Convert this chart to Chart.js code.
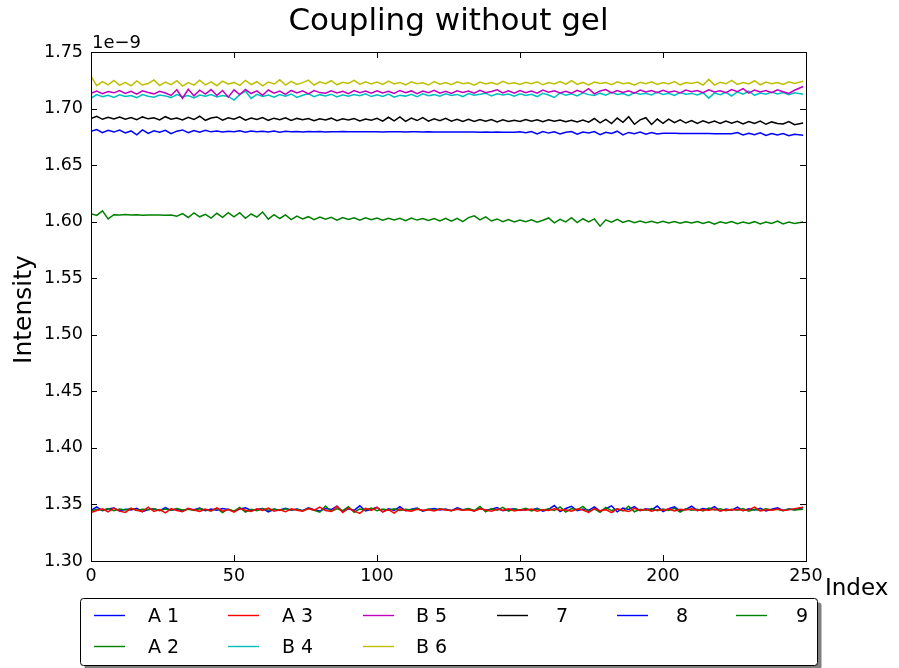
<!DOCTYPE html>
<html>
<head>
<meta charset="utf-8">
<script src="https://cdn.jsdelivr.net/npm/chart.js@4.4.1/dist/chart.umd.min.js"></script>
<style>
  html, body { margin: 0; padding: 0; background: #fff; }
  canvas { display: block; }
</style>
</head>
<body>
<canvas id="chart" width="899" height="668"></canvas>
<script>
const FONT = "'DejaVu Sans', sans-serif";

// readings are plotted every other index, last one is 249
const index = Array.from({length: 124}, (_, i) => i * 2).concat([249]);

const xTicks = [0, 50, 100, 150, 200, 250];
const yTicks = [1.30, 1.35, 1.40, 1.45, 1.50, 1.55, 1.60, 1.65, 1.70, 1.75];

const seriesNames = ['A 1', 'A 2', 'A 3', 'B 4', 'B 5', 'B 6', '7', '8', '9'];
const seriesColors = ['#0000ff', '#008000', '#ff0000', '#00bfbf', '#bf00bf', '#bfbf00', '#000000', '#0000ff', '#008000'];

// values in units of 1e-9
const a1 = [
  1.3448,1.3479,1.3444,1.3459,1.3468,1.3442,1.3457,1.3451,1.3466,1.3437,1.3455,1.3462,1.3446,1.3473,1.3448,1.3457,1.3442,1.3462,1.3453,1.3468,1.3444,1.3459,1.3448,1.3464,1.3455,
  1.3440,1.3459,1.3470,1.3446,1.3455,1.3464,1.3435,1.3457,1.3451,1.3466,1.3448,1.3459,1.3444,1.3470,1.3453,1.3442,1.3464,1.3455,1.3484,1.3437,1.3462,1.3448,1.3488,1.3442,1.3457,
  1.3475,1.3435,1.3462,1.3448,1.3481,1.3444,1.3457,1.3468,1.3440,1.3455,1.3464,1.3451,1.3459,1.3444,1.3470,1.3453,1.3459,1.3442,1.3466,1.3448,1.3457,1.3473,1.3444,1.3455,1.3462,
  1.3446,1.3459,1.3451,1.3466,1.3440,1.3457,1.3490,1.3437,1.3464,1.3484,1.3444,1.3459,1.3448,1.3479,1.3442,1.3462,1.3488,1.3435,1.3468,1.3455,1.3481,1.3444,1.3462,1.3451,1.3486,
  1.3437,1.3462,1.3479,1.3444,1.3457,1.3484,1.3446,1.3464,1.3453,1.3481,1.3442,1.3459,1.3448,1.3477,1.3444,1.3462,1.3451,1.3466,1.3442,1.3457,1.3470,1.3446,1.3459,1.3453,1.3473
];
const a2 = [
  1.3442,1.3457,1.3449,1.3464,1.3444,1.3460,1.3451,1.3466,1.3446,1.3457,1.3453,1.3462,1.3444,1.3460,1.3449,1.3464,1.3451,1.3457,1.3446,1.3462,1.3453,1.3442,1.3466,1.3429,1.3460,
  1.3440,1.3473,1.3433,1.3457,1.3444,1.3464,1.3449,1.3460,1.3446,1.3462,1.3451,1.3457,1.3444,1.3464,1.3449,1.3431,1.3486,1.3438,1.3462,1.3446,1.3479,1.3431,1.3460,1.3451,1.3468,
  1.3444,1.3460,1.3449,1.3462,1.3446,1.3457,1.3451,1.3464,1.3444,1.3460,1.3449,1.3462,1.3453,1.3444,1.3460,1.3451,1.3464,1.3446,1.3482,1.3435,1.3464,1.3449,1.3475,1.3440,1.3462,
  1.3451,1.3466,1.3442,1.3460,1.3449,1.3462,1.3446,1.3477,1.3433,1.3464,1.3451,1.3482,1.3438,1.3462,1.3431,1.3473,1.3446,1.3460,1.3442,1.3484,1.3435,1.3457,1.3449,1.3464,1.3444,
  1.3460,1.3446,1.3466,1.3433,1.3462,1.3449,1.3457,1.3442,1.3468,1.3451,1.3462,1.3444,1.3457,1.3449,1.3464,1.3440,1.3457,1.3446,1.3462,1.3451,1.3457,1.3444,1.3460,1.3451,1.3457
];
const a3 = [
  1.3428,1.3446,1.3461,1.3435,1.3468,1.3441,1.3430,1.3465,1.3448,1.3437,1.3476,1.3439,1.3454,1.3426,1.3463,1.3446,1.3435,1.3465,1.3450,1.3439,1.3459,1.3443,1.3470,1.3441,1.3454,
  1.3432,1.3463,1.3448,1.3437,1.3461,1.3446,1.3468,1.3441,1.3452,1.3435,1.3461,1.3448,1.3441,1.3463,1.3450,1.3476,1.3446,1.3437,1.3483,1.3428,1.3468,1.3441,1.3421,1.3465,1.3448,
  1.3474,1.3435,1.3454,1.3424,1.3461,1.3446,1.3441,1.3457,1.3448,1.3452,1.3443,1.3459,1.3450,1.3446,1.3457,1.3448,1.3454,1.3443,1.3461,1.3450,1.3441,1.3457,1.3448,1.3461,1.3443,
  1.3454,1.3448,1.3459,1.3441,1.3454,1.3446,1.3461,1.3448,1.3452,1.3441,1.3459,1.3450,1.3430,1.3463,1.3443,1.3454,1.3428,1.3461,1.3448,1.3437,1.3465,1.3446,1.3457,1.3441,1.3454,
  1.3448,1.3459,1.3443,1.3457,1.3450,1.3461,1.3446,1.3454,1.3448,1.3459,1.3443,1.3454,1.3450,1.3457,1.3446,1.3452,1.3476,1.3443,1.3454,1.3448,1.3459,1.3446,1.3452,1.3463,1.3476
];
const b4 = [
  1.7091,1.7123,1.7104,1.7118,1.7099,1.7121,1.7107,1.7116,1.7096,1.7124,1.7108,1.7100,1.7120,1.7112,1.7097,1.7123,1.7105,1.7115,1.7094,1.7120,1.7110,1.7124,1.7102,1.7116,1.7107,
  1.7075,1.7123,1.7155,1.7090,1.7125,1.7106,1.7120,1.7101,1.7124,1.7110,1.7129,1.7099,1.7118,1.7130,1.7105,1.7123,1.7112,1.7127,1.7103,1.7121,1.7109,1.7125,1.7113,1.7131,1.7106,
  1.7122,1.7107,1.7128,1.7101,1.7118,1.7110,1.7126,1.7104,1.7131,1.7114,1.7123,1.7109,1.7130,1.7115,1.7125,1.7106,1.7133,1.7117,1.7126,1.7136,1.7112,1.7131,1.7120,1.7128,1.7110,
  1.7131,1.7115,1.7127,1.7106,1.7135,1.7120,1.7098,1.7138,1.7117,1.7130,1.7112,1.7139,1.7123,1.7115,1.7136,1.7119,1.7144,1.7125,1.7133,1.7114,1.7141,1.7127,1.7135,1.7120,1.7146,
  1.7124,1.7135,1.7116,1.7142,1.7126,1.7134,1.7120,1.7140,1.7092,1.7138,1.7123,1.7144,1.7111,1.7148,1.7127,1.7153,1.7117,1.7137,1.7126,1.7146,1.7129,1.7141,1.7122,1.7140,1.7126
];
const b5 = [
  1.7135,1.7155,1.7132,1.7151,1.7139,1.7159,1.7133,1.7153,1.7128,1.7157,1.7142,1.7130,1.7153,1.7137,1.7116,1.7166,1.7091,1.7170,1.7112,1.7162,1.7128,1.7168,1.7116,1.7160,1.7101,
  1.7165,1.7124,1.7168,1.7133,1.7157,1.7117,1.7164,1.7136,1.7154,1.7125,1.7160,1.7138,1.7156,1.7130,1.7159,1.7141,1.7135,1.7157,1.7138,1.7152,1.7132,1.7159,1.7141,1.7154,1.7135,
  1.7157,1.7138,1.7152,1.7133,1.7160,1.7141,1.7156,1.7132,1.7154,1.7140,1.7162,1.7136,1.7152,1.7133,1.7157,1.7143,1.7154,1.7135,1.7162,1.7140,1.7151,1.7165,1.7138,1.7156,1.7135,
  1.7160,1.7141,1.7154,1.7136,1.7164,1.7144,1.7157,1.7138,1.7152,1.7135,1.7162,1.7143,1.7176,1.7130,1.7156,1.7168,1.7138,1.7160,1.7143,1.7157,1.7136,1.7164,1.7146,1.7159,1.7140,
  1.7162,1.7144,1.7156,1.7138,1.7164,1.7148,1.7160,1.7141,1.7166,1.7146,1.7158,1.7140,1.7167,1.7149,1.7176,1.7137,1.7164,1.7146,1.7160,1.7141,1.7166,1.7149,1.7134,1.7162,1.7195
];
const b6 = [
  1.7285,1.7202,1.7239,1.7210,1.7249,1.7205,1.7232,1.7200,1.7244,1.7208,1.7222,1.7253,1.7203,1.7234,1.7212,1.7246,1.7198,1.7229,1.7207,1.7251,1.7210,1.7236,1.7202,1.7242,1.7215,
  1.7231,1.7205,1.7248,1.7212,1.7237,1.7200,1.7234,1.7217,1.7254,1.7207,1.7241,1.7213,1.7229,1.7251,1.7208,1.7236,1.7219,1.7246,1.7210,1.7232,1.7222,1.7249,1.7213,1.7237,1.7217,
  1.7234,1.7213,1.7243,1.7217,1.7231,1.7210,1.7236,1.7219,1.7228,1.7208,1.7239,1.7216,1.7230,1.7211,1.7237,1.7220,1.7227,1.7207,1.7234,1.7217,1.7231,1.7213,1.7240,1.7219,1.7228,
  1.7214,1.7233,1.7220,1.7236,1.7210,1.7230,1.7217,1.7239,1.7216,1.7246,1.7213,1.7231,1.7208,1.7234,1.7222,1.7230,1.7211,1.7237,1.7219,1.7228,1.7207,1.7233,1.7220,1.7236,1.7213,
  1.7231,1.7217,1.7239,1.7210,1.7230,1.7222,1.7234,1.7208,1.7258,1.7207,1.7233,1.7219,1.7249,1.7213,1.7230,1.7217,1.7246,1.7210,1.7234,1.7220,1.7231,1.7214,1.7237,1.7222,1.7242
];
const s7 = [
  1.6911,1.6931,1.6905,1.6923,1.6908,1.6925,1.6906,1.6920,1.6902,1.6926,1.6909,1.6919,1.6900,1.6928,1.6906,1.6917,1.6899,1.6922,1.6903,1.6932,1.6896,1.6916,1.6926,1.6897,1.6919,
  1.6905,1.6927,1.6898,1.6916,1.6904,1.6921,1.6896,1.6915,1.6902,1.6918,1.6895,1.6913,1.6901,1.6912,1.6893,1.6910,1.6899,1.6915,1.6892,1.6909,1.6898,1.6912,1.6890,1.6907,1.6896,
  1.6914,1.6889,1.6923,1.6892,1.6926,1.6886,1.6915,1.6894,1.6920,1.6888,1.6909,1.6892,1.6914,1.6889,1.6906,1.6886,1.6905,1.6885,1.6903,1.6888,1.6902,1.6882,1.6900,1.6885,1.6897,
  1.6886,1.6903,1.6889,1.6900,1.6884,1.6901,1.6887,1.6898,1.6883,1.6897,1.6882,1.6898,1.6879,1.6912,1.6873,1.6904,1.6868,1.6916,1.6879,1.6928,1.6861,1.6900,1.6919,1.6859,1.6907,
  1.6869,1.6907,1.6875,1.6900,1.6872,1.6894,1.6869,1.6892,1.6873,1.6889,1.6868,1.6890,1.6871,1.6887,1.6865,1.6886,1.6869,1.6890,1.6861,1.6882,1.6868,1.6864,1.6885,1.6858,1.6873
];
const s8 = [
  1.6799,1.6815,1.6787,1.6807,1.6792,1.6810,1.6784,1.6802,1.6767,1.6811,1.6781,1.6803,1.6791,1.6808,1.6778,1.6800,1.6811,1.6786,1.6805,1.6791,1.6807,1.6794,1.6802,1.6792,1.6800,
  1.6794,1.6803,1.6791,1.6801,1.6795,1.6800,1.6792,1.6801,1.6791,1.6799,1.6794,1.6797,1.6793,1.6798,1.6795,1.6797,1.6793,1.6796,1.6795,1.6797,1.6794,1.6796,1.6795,1.6796,1.6794,
  1.6795,1.6793,1.6795,1.6794,1.6795,1.6793,1.6794,1.6794,1.6793,1.6794,1.6793,1.6793,1.6792,1.6793,1.6792,1.6793,1.6792,1.6792,1.6791,1.6792,1.6791,1.6792,1.6790,1.6791,1.6790,
  1.6794,1.6786,1.6796,1.6775,1.6797,1.6783,1.6794,1.6776,1.6791,1.6797,1.6773,1.6792,1.6783,1.6796,1.6770,1.6791,1.6780,1.6800,1.6767,1.6789,1.6778,1.6792,1.6773,1.6788,1.6775,
  1.6782,1.6781,1.6781,1.6780,1.6780,1.6780,1.6779,1.6779,1.6779,1.6778,1.6778,1.6778,1.6777,1.6788,1.6766,1.6782,1.6769,1.6785,1.6763,1.6779,1.6766,1.6780,1.6760,1.6772,1.6764
];
const s9 = [
  1.6070,1.6055,1.6095,1.6025,1.6062,1.6058,1.6064,1.6059,1.6061,1.6057,1.6060,1.6058,1.6059,1.6056,1.6058,1.6049,1.6071,1.6037,1.6077,1.6043,1.6065,1.6031,1.6074,1.6039,1.6080,
  1.6042,1.6080,1.6030,1.6068,1.6040,1.6085,1.6022,1.6062,1.6028,1.6060,1.6018,1.6050,1.6024,1.6044,1.6018,1.6040,1.6021,1.6038,1.6014,1.6036,1.6019,1.6035,1.6013,1.6034,1.6017,
  1.6033,1.6012,1.6030,1.6015,1.6029,1.6009,1.6032,1.6014,1.6028,1.6010,1.6027,1.6006,1.6030,1.6005,1.6030,1.6000,1.6036,1.6052,1.6015,1.6043,1.6006,1.6024,1.5999,1.6019,1.5997,
  1.6014,1.5999,1.6017,1.5996,1.6012,1.6033,1.5989,1.6020,1.5998,1.6036,1.5992,1.6026,1.5997,1.6024,1.5960,1.6016,1.5995,1.6021,1.5993,1.6009,1.5991,1.6006,1.5990,1.6003,1.5989,
  1.6003,1.5989,1.6001,1.5986,1.6000,1.5988,1.6002,1.5985,1.5999,1.5977,1.5998,1.5986,1.6002,1.5981,1.5997,1.5985,1.6000,1.5979,1.5996,1.5984,1.6006,1.5980,1.5996,1.5984,1.5998
];

const seriesValues = [a1, a2, a3, b4, b5, b6, s7, s8, s9];

const datasets = seriesValues.map((vals, i) => ({
  label: seriesNames[i],
  data: vals.map((v, j) => ({x: index[j], y: v})),
  borderColor: seriesColors[i],
  borderWidth: 1.5,
  pointRadius: 0,
  fill: false,
  tension: 0,
  order: seriesValues.length - i   // first series at the bottom, like matplotlib
}));

// legend laid out column by column, two rows
const legendCols = [[0, 1], [2, 3], [4, 5], [6], [7], [8]];
const legendLineX = [94, 228, 363, 497, 617, 736];
const legendTextX = [148, 282, 416, 556, 676, 796];
const legendRowY = [615, 646];

const decorations = {
  id: 'decorations',
  afterDraw(chart) {
    const c = chart.ctx, a = chart.chartArea;
    const xs = chart.scales.x, ys = chart.scales.y;
    c.save();

    // frame + inward ticks on all sides
    c.strokeStyle = '#000';
    c.lineWidth = 1;
    c.strokeRect(a.left + 0.5, a.top + 0.5, a.right - a.left, a.bottom - a.top);
    c.beginPath();
    xTicks.forEach(v => {
      const x = Math.round(xs.getPixelForValue(v)) + 0.5;
      c.moveTo(x, a.bottom); c.lineTo(x, a.bottom - 6);
      c.moveTo(x, a.top); c.lineTo(x, a.top + 6);
    });
    yTicks.forEach(v => {
      const y = Math.round(ys.getPixelForValue(v)) + 0.5;
      c.moveTo(a.left, y); c.lineTo(a.left + 6, y);
      c.moveTo(a.right, y); c.lineTo(a.right - 6, y);
    });
    c.stroke();

    c.fillStyle = '#000';
    c.textBaseline = 'alphabetic';

    // title
    c.font = '31px ' + FONT;
    c.textAlign = 'center';
    c.fillText('Coupling without gel', (a.left + a.right) / 2, 30);

    // offset text
    c.font = '18px ' + FONT;
    c.textAlign = 'left';
    c.fillText('1e\u22129', a.left + 1, 48);

    // axis labels
    c.font = '23px ' + FONT;
    c.fillText('Index', 825, 595);
    c.save();
    c.translate(31, (a.top + a.bottom) / 2 + 3);
    c.rotate(-Math.PI / 2);
    c.font = '25px ' + FONT;
    c.textAlign = 'center';
    c.fillText('Intensity', 0, 0);
    c.restore();

    // legend box with shadow
    const bx = 80.5, by = 598.5, bw = 737, bh = 67;
    c.fillStyle = 'rgba(0,0,0,0.5)';
    c.beginPath();
    c.roundRect(bx + 4, by + 4, bw, bh, 3);
    c.fill();
    c.fillStyle = '#fff';
    c.beginPath();
    c.roundRect(bx, by, bw, bh, 3);
    c.fill();
    c.strokeStyle = '#000';
    c.stroke();

    c.font = '19px ' + FONT;
    c.textAlign = 'left';
    legendCols.forEach((col, ci) => {
      col.forEach((si, ri) => {
        const y = legendRowY[ri];
        c.strokeStyle = seriesColors[si];
        c.lineWidth = 1.4;
        c.beginPath();
        c.moveTo(legendLineX[ci], y + 0.5);
        c.lineTo(legendLineX[ci] + 31, y + 0.5);
        c.stroke();
        c.fillStyle = '#000';
        c.fillText(seriesNames[si], legendTextX[ci], y + 7);
      });
    });
    c.restore();
  }
};

new Chart(document.getElementById('chart').getContext('2d'), {
  type: 'line',
  data: { datasets },
  options: {
    responsive: false,
    animation: false,
    layout: { padding: { left: 0, right: 93, top: 52, bottom: 0 } },
    plugins: {
      legend: { display: false },
      title: { display: false },
      tooltip: { enabled: false }
    },
    scales: {
      x: {
        type: 'linear',
        min: 0,
        max: 250,
        afterFit: s => { s.height = 107; },
        afterBuildTicks: s => { s.ticks = xTicks.map(v => ({value: v})); },
        grid: { display: false, drawTicks: false },
        border: { display: false },
        ticks: { color: '#000', font: { family: FONT, size: 17.5 }, padding: 5, maxRotation: 0 }
      },
      y: {
        type: 'linear',
        min: 1.30,
        max: 1.75,
        afterFit: s => { s.width = 91; },
        afterBuildTicks: s => { s.ticks = yTicks.map(v => ({value: v})); },
        grid: { display: false, drawTicks: false },
        border: { display: false },
        ticks: { color: '#000', font: { family: FONT, size: 17.5 }, padding: 8, callback: v => v.toFixed(2) }
      }
    }
  },
  plugins: [decorations]
});
</script>
</body>
</html>
